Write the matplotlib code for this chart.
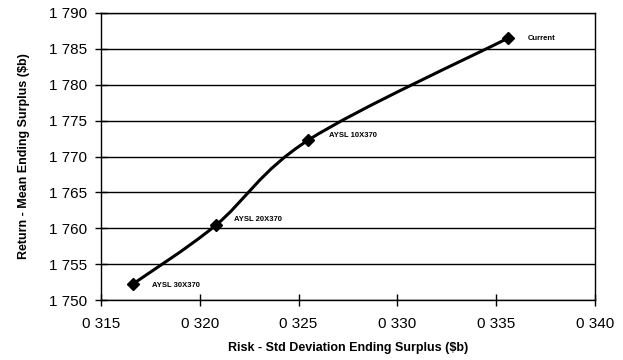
import matplotlib
matplotlib.use("Agg")
import matplotlib.pyplot as plt
from matplotlib.path import Path
from matplotlib.patches import PathPatch
import numpy as np

plt.rcParams['font.family'] = ['Liberation Sans', 'DejaVu Sans']

# data
risk = [0.3166, 0.3208, 0.3255, 0.3356]
ret = [1.7522, 1.7604, 1.7723, 1.7865]
names = ['AYSL 30X370', 'AYSL 20X370', 'AYSL 10X370', 'Current']
xticks = [0.315, 0.320, 0.325, 0.330, 0.335, 0.340]
yticks = [1.750, 1.755, 1.760, 1.765, 1.770, 1.775, 1.780, 1.785, 1.790]

fig = plt.figure(figsize=(6.23, 3.6), dpi=100)
ax = fig.add_axes([101/623, 1-300/360, 494/623, 287/360])

# smoothed line (Excel style) via bezier segments through the points
px = np.array(risk)
py = np.array(ret)
verts = [(px[0], py[0])]
codes = [Path.MOVETO]
n = len(px)
for i in range(n - 1):
    p0 = (px[max(i-1, 0)], py[max(i-1, 0)])
    p1 = (px[i], py[i])
    p2 = (px[i+1], py[i+1])
    p3 = (px[min(i+2, n-1)], py[min(i+2, n-1)])
    c1 = (p1[0] + (p2[0]-p0[0])/6, p1[1] + (p2[1]-p0[1])/6)
    c2 = (p2[0] - (p3[0]-p1[0])/6, p2[1] - (p3[1]-p1[1])/6)
    verts += [c1, c2, p2]
    codes += [Path.CURVE4]*3
ax.add_patch(PathPatch(Path(verts, codes), fill=False, lw=2.2, color='black', zorder=3))
ax.plot(risk, ret, 'D', color='black', ms=6, zorder=4)

offsets = [(14, -1), (13, 4), (15, 3), (14, 0)]
for x, y, s, o in zip(risk, ret, names, offsets):
    ax.annotate(s, (x, y), xytext=o, textcoords='offset points',
                fontsize=5.5, fontweight='bold', va='center', ha='left')

ax.set_xlim(0.315, 0.340)
ax.set_ylim(1.750, 1.790)
ax.set_xticks(xticks)
ax.set_yticks(yticks)
ax.set_xticklabels(['0 %03d' % round(t*1000) for t in xticks], fontsize=11)
ax.set_yticklabels(['1 %03d' % round((t-1)*1000) for t in yticks], fontsize=11)
ax.tick_params(direction='inout', length=8, width=1, color='black')
ax.tick_params(axis='x', pad=8)
ax.tick_params(axis='y', pad=6)
ax.grid(axis='y', color='black', lw=1)
for s in ax.spines.values():
    s.set_linewidth(1)

ax.set_xlabel('Risk - Std Deviation Ending Surplus ($b)', fontsize=9, fontweight='bold', labelpad=8)
ax.set_ylabel('Return - Mean Ending Surplus ($b)', fontsize=9, fontweight='bold', labelpad=14)

fig.savefig('out.png', dpi=100)
